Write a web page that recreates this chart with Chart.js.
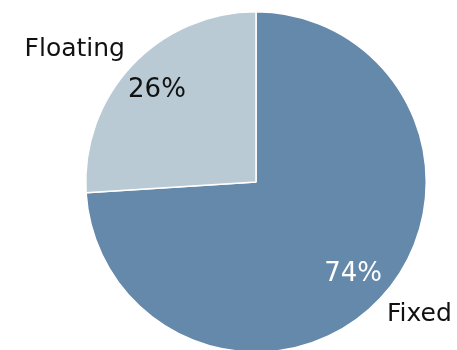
<!DOCTYPE html>
<html lang="en">
<head>
  <meta charset="UTF-8">
  <title>Fixed vs Floating</title>
  <script src="https://cdn.jsdelivr.net/npm/chart.js"></script>
  <style>
    body {
      margin: 0;
      background: #fff;
      overflow: hidden;
    }
    #wrap {
      width: 457px;
      height: 360px;
    }
  </style>
</head>
<body>
<div id="wrap">
<canvas id="grafico"></canvas>
</div>

<script>
  const categories = ['Fixed', 'Floating'];
  const shares = [74, 26];
  const colors = ['#6589ab', '#b9cad4'];
  const pctColors = ['#ffffff', '#111111'];

  // labels: percent inside the slice, name outside
  const labelPlugin = {
    id: 'pieLabels',
    afterDatasetsDraw(chart) {
      const ctx = chart.ctx;
      const meta = chart.getDatasetMeta(0);
      meta.data.forEach((arc, i) => {
        const mid = (arc.startAngle + arc.endAngle) / 2;
        const dx = Math.cos(mid), dy = Math.sin(mid);
        const r = arc.outerRadius * 0.79;
        const px = arc.x + dx * r, py = arc.y + dy * r;
        ctx.save();
        ctx.textAlign = 'center';
        ctx.textBaseline = 'middle';
        ctx.font = '26px "DejaVu Sans"';
        ctx.fillStyle = pctColors[i];
        ctx.fillText(shares[i] + '%', px - 1, py);
        ctx.font = '25px "DejaVu Sans"';
        ctx.fillStyle = '#111111';
        ctx.textAlign = dx < 0 ? 'right' : 'left';
        ctx.fillText(categories[i], px + Math.sign(dx) * 33, py + Math.sign(dy) * 40);
        ctx.restore();
      });
    }
  };

  new Chart(document.getElementById('grafico'), {
    type: 'pie',
    data: {
      labels: categories,
      datasets: [{
        data: shares,
        backgroundColor: colors,
        borderColor: '#ffffff',
        borderWidth: 1.5
      }]
    },
    options: {
      responsive: true,
      maintainAspectRatio: false,
      animation: false,
      layout: { padding: { top: 11, bottom: 7, left: 85, right: 30 } },
      plugins: {
        legend: { display: false },
        tooltip: { enabled: false }
      }
    },
    plugins: [labelPlugin]
  });
</script>

</body>
</html>
